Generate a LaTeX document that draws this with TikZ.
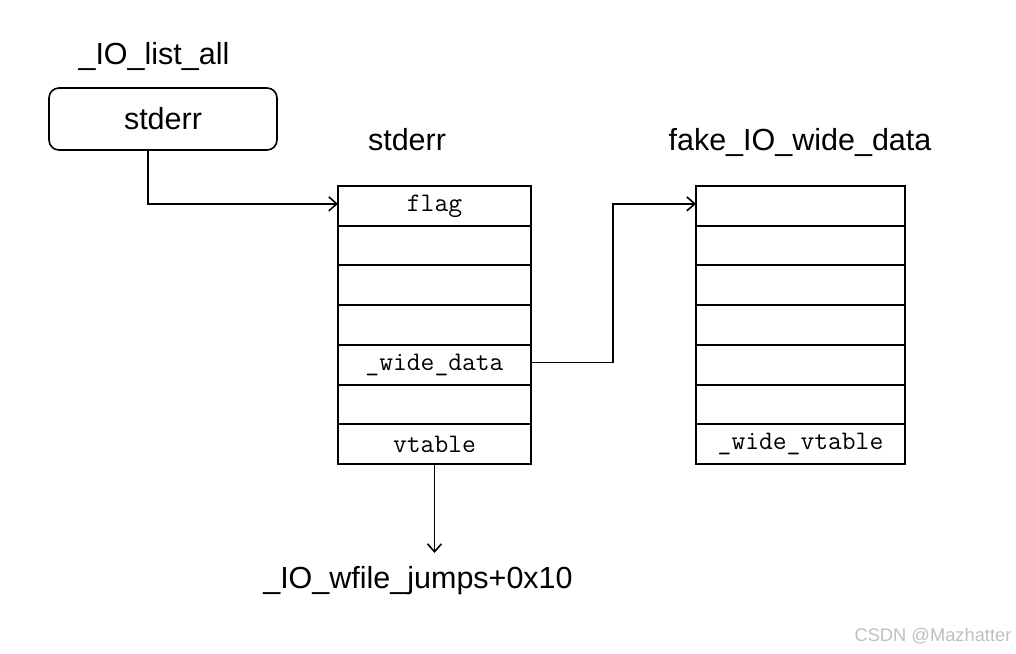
\documentclass[tikz,border=0pt]{standalone}
\usepackage{fontspec}
\setmainfont{Liberation Sans}
\usetikzlibrary{positioning,arrows.meta}

\begin{document}
\begin{tikzpicture}[
    x=1pt, y=-1pt,
    node distance=0pt,
    lbl/.style={font=\fontsize{30.5}{36}\selectfont, inner sep=0pt, anchor=base},
    ptr/.style={draw, line width=1.6pt, rounded corners=10pt, minimum width=228pt, minimum height=62pt, font=\fontsize{30.5}{36}\selectfont},
    cell/.style={draw, line width=2pt, outer sep=0pt, inner sep=0pt, minimum height=39.7pt, font=\fontsize{26.8}{30}\selectfont\ttfamily},
    scell/.style={cell, minimum width=193pt},
    wcell/.style={cell, minimum width=209pt},
    arr/.style={-{Straight Barb[length=8pt,width=14pt]}, line width=1.6pt}
]
\useasboundingbox (0,0) rectangle (1016,653);

\node[lbl] (lsttitle) at (154,64) {\_IO\_list\_all};
\node[ptr] (lst) at (163,119) {stderr};

\node[lbl] (stitle) at (407,150) {stderr};
\node[scell] (e1) at (434.5,205.85) {flag};
\node[scell, below=of e1] (e2) {};
\node[scell, below=of e2] (e3) {};
\node[scell, below=of e3] (e4) {};
\node[scell, below=of e4] (e5) {\_wide\_data};
\node[scell, below=of e5] (e6) {};
\node[scell, below=of e6] (e7) {vtable};

\node[lbl] (wtitle) at (800,150) {fake\_IO\_wide\_data};
\node[wcell] (w1) at (800.5,205.85) {};
\node[wcell, below=of w1] (w2) {};
\node[wcell, below=of w2] (w3) {};
\node[wcell, below=of w3] (w4) {};
\node[wcell, below=of w4] (w5) {};
\node[wcell, below=of w5] (w6) {};
\node[wcell, below=of w6] (w7) {\_wide\_vtable};

\node[lbl] (jmp) at (418,588) {\_IO\_wfile\_jumps+0x10};
\coordinate (jtip) at (434.5,553);

\node[font=\fontsize{18.3}{22}\selectfont, text=black!25, anchor=base, inner sep=0pt] (mark) at (933,641) {CSDN @Mazhatter};

\draw[arr] ([xshift=-15pt]lst.south) |- ([yshift=2pt]e1.west);
\draw[arr] ([yshift=2pt]e5.east) -- ++(82,0) |- ([yshift=2pt]w1.west);
\draw[arr] (e7.south) -- (jtip);
\end{tikzpicture}
\end{document}
